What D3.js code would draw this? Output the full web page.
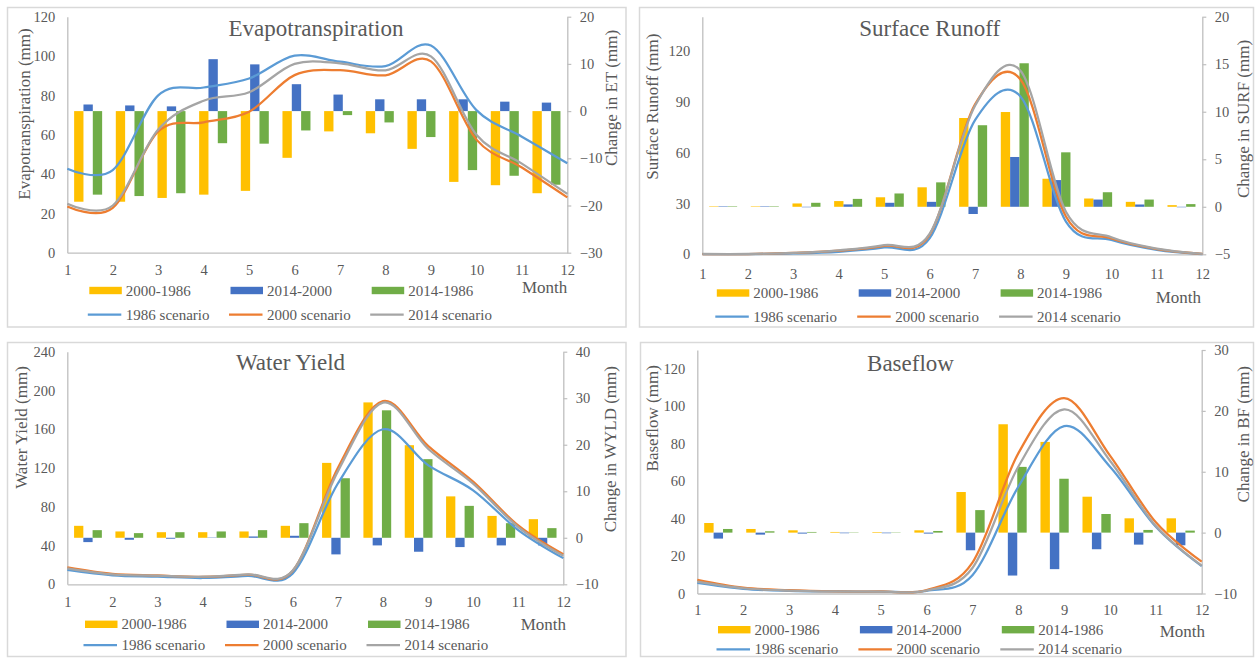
<!DOCTYPE html>
<html>
<head>
<meta charset="utf-8">
<script src="https://cdn.jsdelivr.net/npm/d3@7"></script>
<style>
  body { margin: 0; background: #ffffff; }
  text { font-family: "Liberation Serif", "Times New Roman", serif; fill: #595959; }
</style>
</head>
<body>
<svg id="chart" width="1255" height="658"></svg>
<script>
// ---- shared categories and legend labels ----
const months = [1, 2, 3, 4, 5, 6, 7, 8, 9, 10, 11, 12];
const barSeriesNames = ["2000-1986", "2014-2000", "2014-1986"];
const lineSeriesNames = ["1986 scenario", "2000 scenario", "2014 scenario"];

// ---- Evapotranspiration (mm) ----
const et1986 = [42.7, 42.0, 80.0, 84.0, 88.6, 100.2, 97.1, 94.9, 105.3, 72.5, 59.0, 45.5];
const et2000 = [23.5, 22.8, 61.6, 66.3, 71.7, 90.3, 92.8, 90.2, 97.3, 57.5, 43.3, 28.1];
const et2014 = [24.9, 24.0, 62.6, 77.3, 81.6, 96.0, 96.3, 92.7, 99.8, 60.0, 45.3, 29.9];
const etChange2000_1986 = [-19.2, -19.2, -18.4, -17.7, -16.9, -9.9, -4.3, -4.7, -8.0, -15.0, -15.7, -17.4];
const etChange2014_2000 = [1.4, 1.2, 1.0, 11.0, 9.9, 5.7, 3.5, 2.5, 2.5, 2.5, 2.0, 1.8];
const etChange2014_1986 = [-17.7, -18.0, -17.4, -6.8, -6.9, -4.1, -0.85, -2.4, -5.5, -12.5, -13.7, -15.6];
const etLeftTicks = [0, 20, 40, 60, 80, 100, 120];
const etRightTicks = [-30, -20, -10, 0, 10, 20];

// ---- Surface runoff (mm) ----
const sr1986 = [0.1, 0.1, 0.5, 1.5, 4.0, 9.4, 79.0, 93.0, 19.3, 8.4, 2.6, 0.1];
const sr2000 = [0.15, 0.15, 0.85, 2.1, 5.0, 11.5, 88.3, 103.0, 22.3, 9.3, 3.1, 0.3];
const sr2014 = [0.2, 0.2, 0.8, 2.35, 5.4, 12.0, 87.5, 108.2, 25.1, 10.0, 3.35, 0.25];
const srChange2000_1986 = [0.05, 0.05, 0.35, 0.6, 1.0, 2.05, 9.34, 9.97, 2.95, 0.87, 0.52, 0.17];
const srChange2014_2000 = [0.05, 0.05, -0.05, 0.25, 0.42, 0.52, -0.76, 5.24, 2.81, 0.76, 0.24, -0.05];
const srChange2014_1986 = [0.05, 0.05, 0.42, 0.83, 1.4, 2.57, 8.58, 15.1, 5.73, 1.53, 0.76, 0.28];
const srLeftTicks = [0, 30, 60, 90, 120];
const srRightTicks = [-5, 0, 5, 10, 15, 20];

// ---- Water yield (mm) ----
const wy1986 = [14.8, 9.3, 7.9, 6.5, 8.6, 11.3, 104.0, 160.0, 123.0, 97.0, 56.0, 27.0];
const wy2000 = [17.4, 10.7, 9.1, 7.7, 10.0, 13.9, 120.1, 189.1, 142.9, 105.9, 60.7, 31.0];
const wy2014 = [16.5, 10.3, 8.9, 7.8, 10.3, 14.3, 116.5, 187.5, 139.9, 103.9, 59.1, 29.4];
const wyChange2000_1986 = [2.57, 1.36, 1.2, 1.2, 1.36, 2.57, 16.1, 29.1, 19.9, 8.9, 4.7, 4.0];
const wyChange2014_2000 = [-0.93, -0.43, -0.2, 0.07, 0.28, 0.43, -3.57, -1.64, -3.0, -2.0, -1.64, -1.64];
const wyChange2014_1986 = [1.64, 1.0, 1.2, 1.36, 1.64, 3.14, 12.8, 27.4, 16.9, 6.86, 3.14, 2.07];
const wyLeftTicks = [0, 40, 80, 120, 160, 200, 240];
const wyRightTicks = [-10, 0, 10, 20, 30, 40];

// ---- Baseflow (mm) ----
const bf1986 = [5.7, 2.5, 1.4, 1.1, 1.0, 1.4, 9.8, 57.0, 89.4, 67.7, 35.6, 14.6];
const bf2000 = [7.3, 3.1, 1.8, 1.2, 1.1, 1.8, 16.5, 74.8, 104.3, 73.6, 38.0, 17.0];
const bf2014 = [6.3, 2.8, 1.6, 1.1, 1.0, 1.6, 13.6, 67.7, 98.3, 70.9, 36.0, 14.9];
const bfChange2000_1986 = [1.58, 0.6, 0.38, 0.11, 0.1, 0.38, 6.67, 17.8, 14.9, 5.9, 2.35, 2.35];
const bfChange2014_2000 = [-0.98, -0.33, -0.16, -0.1, -0.1, -0.16, -2.9, -7.05, -6.0, -2.73, -1.97, -2.08];
const bfChange2014_1986 = [0.6, 0.22, 0.11, 0.05, 0.05, 0.27, 3.7, 10.8, 8.85, 3.06, 0.44, 0.33];
const bfLeftTicks = [0, 20, 40, 60, 80, 100, 120];
const bfRightTicks = [-10, 0, 10, 20, 30];

// ---- styling ----
const barColors = ["#FFC000", "#4472C4", "#70AD47"];
const lineColors = ["#5B9BD5", "#ED7D31", "#A5A5A5"];
const axisColor = "#BFBFBF";
const frameColor = "#D9D9D9";
const serif = "'Liberation Serif', 'Times New Roman', serif";

// ---- panel layout ----
const panels = [
  {
    title: "Evapotranspiration", leftTitle: "Evapotranspiration (mm)", rightTitle: "Change in ET (mm)",
    lines: [et1986, et2000, et2014], bars: [etChange2000_1986, etChange2014_2000, etChange2014_1986],
    leftDomain: [0, 120], leftTicks: etLeftTicks, rightDomain: [-30, 20], rightTicks: etRightTicks,
    frame: [7.5, 7.5, 626, 327], plot: { l: 67.3, r: 567.3, t: 16.7, b: 252.7 },
    titlePos: [316, 36], leftTitlePos: [24, 114], rightTitlePos: [611, 98],
    legend: { x: 89.3, dx: 141.2, y1: 290.5, y2: 314.5 }, monthPos: [567.3, 287], xPad: 12
  },
  {
    title: "Surface Runoff", leftTitle: "Surface Runoff (mm)", rightTitle: "Change in SURF (mm)",
    lines: [sr1986, sr2000, sr2014], bars: [srChange2000_1986, srChange2014_2000, srChange2014_1986],
    leftDomain: [0, 140], leftTicks: srLeftTicks, rightDomain: [-5, 20], rightTicks: srRightTicks,
    frame: [639.5, 7.5, 1253.5, 327], plot: { l: 702.3, r: 1202.3, t: 16.7, b: 254.3 },
    titlePos: [929.7, 36], leftTitlePos: [652.8, 106.7], rightTitlePos: [1243.7, 119],
    legend: { x: 716.8, dx: 141.9, y1: 293, y2: 316.7 }, monthPos: [1201, 297], xPad: 14
  },
  {
    title: "Water Yield", leftTitle: "Water Yield (mm)", rightTitle: "Change in WYLD (mm)",
    lines: [wy1986, wy2000, wy2014], bars: [wyChange2000_1986, wyChange2014_2000, wyChange2014_1986],
    leftDomain: [0, 240], leftTicks: wyLeftTicks, rightDomain: [-10, 40], rightTicks: wyRightTicks,
    frame: [7.5, 342.5, 626, 656.5], plot: { l: 67.3, r: 563.3, t: 351.7, b: 584.3 },
    titlePos: [290.5, 370], leftTitlePos: [21.7, 427.5], rightTitlePos: [610.7, 449.2],
    legend: { x: 85, dx: 141.5, y1: 624.3, y2: 645 }, monthPos: [566, 624], xPad: 12.6
  },
  {
    title: "Baseflow", leftTitle: "Baseflow (mm)", rightTitle: "Change in BF (mm)",
    lines: [bf1986, bf2000, bf2014], bars: [bfChange2000_1986, bfChange2014_2000, bfChange2014_1986],
    leftDomain: [0, 130], leftTicks: bfLeftTicks, rightDomain: [-10, 30], rightTicks: bfRightTicks,
    frame: [640.5, 342.5, 1253.5, 656.5], plot: { l: 697.3, r: 1201.7, t: 350, b: 593.5 },
    titlePos: [910.5, 370.7], leftTitlePos: [652.8, 418.3], rightTitlePos: [1243.7, 434.2],
    legend: { x: 718, dx: 141.9, y1: 629.7, y2: 649.3 }, monthPos: [1205, 631], xPad: 11.7
  }
];

const svg = d3.select("#chart");
svg.append("rect").attr("width", 1255).attr("height", 658).attr("fill", "#ffffff");

function drawPanel(p) {
  const g = svg.append("g").attr("font-family", serif);
  const [fx0, fy0, fx1, fy1] = p.frame;
  g.append("rect")
    .attr("x", fx0).attr("y", fy0).attr("width", fx1 - fx0).attr("height", fy1 - fy0)
    .attr("fill", "#ffffff").attr("stroke", frameColor).attr("stroke-width", 1.5);

  const x = d3.scaleLinear().domain([1, 12]).range([p.plot.l, p.plot.r]);
  const band = d3.scaleBand().domain(months).range([p.plot.l, p.plot.r]).padding(0);
  const yL = d3.scaleLinear().domain(p.leftDomain).range([p.plot.b, p.plot.t]);
  const yR = d3.scaleLinear().domain(p.rightDomain).range([p.plot.b, p.plot.t]);

  // left value axis: line and labels only
  const axL = g.append("g").attr("transform", `translate(${p.plot.l},0)`)
    .call(d3.axisLeft(yL).tickValues(p.leftTicks).tickSize(0).tickSizeOuter(0).tickPadding(12));
  // right (change) axis with outward ticks
  const axR = g.append("g").attr("transform", `translate(${p.plot.r},0)`)
    .call(d3.axisRight(yR).tickValues(p.rightTicks).tickSize(4).tickSizeOuter(0).tickPadding(8.5));
  // month axis
  const axB = g.append("g").attr("transform", `translate(0,${p.plot.b})`)
    .call(d3.axisBottom(x).tickValues(months).tickFormat(d3.format("d")).tickSize(0).tickSizeOuter(0).tickPadding(p.xPad));

  [axL, axR, axB].forEach(a => {
    a.attr("font-family", serif).attr("font-size", 14.5);
    a.select(".domain").attr("stroke", axisColor).attr("stroke-width", 1.3);
    a.selectAll(".tick line").attr("stroke", axisColor).attr("stroke-width", 1.2);
    a.selectAll("text").attr("fill", "#595959");
  });
  axR.selectAll("text").attr("text-anchor", "start");

  // change bars (right axis)
  const barW = band.bandwidth() * 0.224;
  const groupOff = (band.bandwidth() - 3 * barW) / 2;
  p.bars.forEach((series, si) => {
    g.append("g").selectAll("rect").data(series).join("rect")
      .attr("x", (d, i) => band(months[i]) + groupOff + si * barW)
      .attr("y", d => Math.min(yR(d), yR(0)))
      .attr("width", barW)
      .attr("height", d => Math.abs(yR(d) - yR(0)))
      .attr("fill", barColors[si]);
  });

  // smoothed scenario lines (left axis)
  const line = d3.line()
    .x((d, i) => x(months[i]))
    .y(d => yL(d))
    .curve(d3.curveCatmullRom.alpha(0));
  p.lines.forEach((series, si) => {
    g.append("path").datum(series)
      .attr("d", line)
      .attr("fill", "none")
      .attr("stroke", lineColors[si])
      .attr("stroke-width", 2.25)
      .attr("stroke-linejoin", "round");
  });

  // titles
  g.append("text").attr("x", p.titlePos[0]).attr("y", p.titlePos[1])
    .attr("text-anchor", "middle").attr("font-size", 23).text(p.title);
  g.append("text")
    .attr("transform", `translate(${p.leftTitlePos[0]},${p.leftTitlePos[1]}) rotate(-90)`)
    .attr("text-anchor", "middle").attr("dominant-baseline", "central")
    .attr("font-size", 17).text(p.leftTitle);
  g.append("text")
    .attr("transform", `translate(${p.rightTitlePos[0]},${p.rightTitlePos[1]}) rotate(-90)`)
    .attr("text-anchor", "middle").attr("dominant-baseline", "central")
    .attr("font-size", 17).text(p.rightTitle);
  g.append("text").attr("x", p.monthPos[0]).attr("y", p.monthPos[1])
    .attr("text-anchor", "end").attr("dominant-baseline", "central")
    .attr("font-size", 17).text("Month");

  // legend
  const lg = p.legend;
  barSeriesNames.forEach((name, i) => {
    const lx = lg.x + i * lg.dx;
    g.append("rect").attr("x", lx).attr("y", lg.y1 - 3.7).attr("width", 32.5).attr("height", 7.4)
      .attr("fill", barColors[i]);
    g.append("text").attr("x", lx + 36.5).attr("y", lg.y1).attr("dominant-baseline", "central")
      .attr("font-size", 15).text(name);
  });
  lineSeriesNames.forEach((name, i) => {
    const lx = lg.x + i * lg.dx;
    g.append("line").attr("x1", lx - 1.5).attr("x2", lx + 32).attr("y1", lg.y2).attr("y2", lg.y2)
      .attr("stroke", lineColors[i]).attr("stroke-width", 2.25);
    g.append("text").attr("x", lx + 36.5).attr("y", lg.y2).attr("dominant-baseline", "central")
      .attr("font-size", 15).text(name);
  });
}

panels.forEach(drawPanel);
</script>
</body>
</html>
